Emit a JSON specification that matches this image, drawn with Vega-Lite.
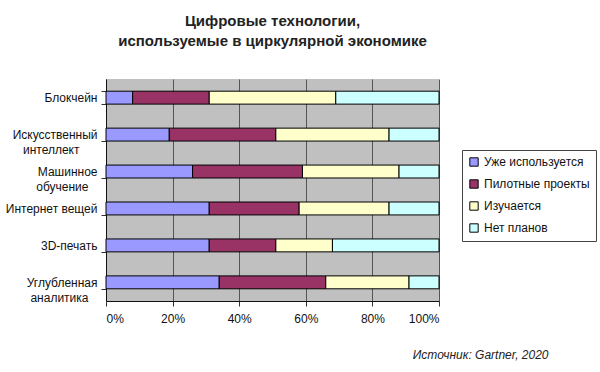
{
  "$schema": "https://vega.github.io/schema/vega-lite/v6.json",
  "width": 333,
  "height": 222,
  "autosize": {"type": "none"},
  "padding": {"left": 106, "top": 79, "right": 161, "bottom": 71},
  "background": "white",
  "config": {
    "font": "Liberation Sans",
    "view": {"fill": "#C0C0C0", "stroke": null}
  },
  "title": {
    "text": ["Цифровые технологии,", "используемые в циркулярной экономике"],
    "fontSize": 15,
    "fontWeight": "bold",
    "color": "#222222",
    "lineHeight": 20,
    "offset": 24,
    "anchor": "middle"
  },
  "data": {
    "values": [
      {"tech": "Блокчейн", "status": "Уже используется", "n": 1, "value": 8},
      {"tech": "Блокчейн", "status": "Пилотные проекты", "n": 2, "value": 23},
      {"tech": "Блокчейн", "status": "Изучается", "n": 3, "value": 38},
      {"tech": "Блокчейн", "status": "Нет планов", "n": 4, "value": 31},
      {"tech": "Искусственный\nинтеллект", "status": "Уже используется", "n": 1, "value": 19},
      {"tech": "Искусственный\nинтеллект", "status": "Пилотные проекты", "n": 2, "value": 32},
      {"tech": "Искусственный\nинтеллект", "status": "Изучается", "n": 3, "value": 34},
      {"tech": "Искусственный\nинтеллект", "status": "Нет планов", "n": 4, "value": 15},
      {"tech": "Машинное\nобучение", "status": "Уже используется", "n": 1, "value": 26},
      {"tech": "Машинное\nобучение", "status": "Пилотные проекты", "n": 2, "value": 33},
      {"tech": "Машинное\nобучение", "status": "Изучается", "n": 3, "value": 29},
      {"tech": "Машинное\nобучение", "status": "Нет планов", "n": 4, "value": 12},
      {"tech": "Интернет вещей", "status": "Уже используется", "n": 1, "value": 31},
      {"tech": "Интернет вещей", "status": "Пилотные проекты", "n": 2, "value": 27},
      {"tech": "Интернет вещей", "status": "Изучается", "n": 3, "value": 27},
      {"tech": "Интернет вещей", "status": "Нет планов", "n": 4, "value": 15},
      {"tech": "3D-печать", "status": "Уже используется", "n": 1, "value": 31},
      {"tech": "3D-печать", "status": "Пилотные проекты", "n": 2, "value": 20},
      {"tech": "3D-печать", "status": "Изучается", "n": 3, "value": 17},
      {"tech": "3D-печать", "status": "Нет планов", "n": 4, "value": 32},
      {"tech": "Углубленная\nаналитика", "status": "Уже используется", "n": 1, "value": 34},
      {"tech": "Углубленная\nаналитика", "status": "Пилотные проекты", "n": 2, "value": 32},
      {"tech": "Углубленная\nаналитика", "status": "Изучается", "n": 3, "value": 25},
      {"tech": "Углубленная\nаналитика", "status": "Нет планов", "n": 4, "value": 9}
    ]
  },
  "mark": {"type": "bar", "stroke": "black", "strokeWidth": 1},
  "encoding": {
    "y": {
      "field": "tech",
      "type": "nominal",
      "sort": null,
      "scale": {"paddingInner": 0.65, "paddingOuter": 0.33},
      "axis": {
        "title": null,
        "labelExpr": "indexof(datum.label, '\\n') < 0 ? datum.label : [split(datum.label, '\\n')[0], split(datum.label, '\\n')[1] + (indexof(datum.label, 'Искус') == 0 ? '\\u2800\\u2800' : '\\u2800')]",
        "labelFontSize": 12,
        "labelColor": "#111111",
        "labelLineHeight": 15,
        "labelPadding": 4,
        "tickBand": "extent",
        "tickColor": "#333333",
        "tickSize": 5,
        "domainColor": "#111111",
        "labelLimit": 200
      }
    },
    "x": {
      "field": "value",
      "type": "quantitative",
      "stack": "normalize",
      "scale": {"domain": [0, 1]},
      "axis": {
        "format": ".0%",
        "values": [0, 0.2, 0.4, 0.6, 0.8, 1],
        "grid": true,
        "gridColor": "#555555",
        "gridWidth": 1,
        "labelFontSize": 12,
        "labelColor": "#111111",
        "labelPadding": 7,
        "tickColor": "#333333",
        "tickSize": 5,
        "domainColor": "#111111",
        "title": "Источник: Gartner, 2020",
        "titleFontStyle": "italic",
        "titleFontWeight": "normal",
        "titleFontSize": 12,
        "titleColor": "#222222",
        "titleAlign": "right",
        "titleAnchor": null,
        "titleBaseline": "alphabetic",
        "titleX": 442,
        "titleY": 57
      }
    },
    "color": {
      "field": "status",
      "type": "nominal",
      "scale": {
        "domain": ["Уже используется", "Пилотные проекты", "Изучается", "Нет планов"],
        "range": ["#9999FF", "#993366", "#FFFFCC", "#CCFFFF"]
      },
      "legend": {
        "title": null,
        "orient": "none",
        "legendX": 356,
        "legendY": 71,
        "strokeColor": "#444444",
        "padding": 6,
        "symbolType": "square",
        "symbolSize": 70,
        "symbolStrokeColor": "black",
        "symbolStrokeWidth": 1,
        "labelFontSize": 12,
        "labelColor": "#111111",
        "rowPadding": 8,
        "labelOffset": 4
      }
    },
    "order": {"field": "n", "type": "quantitative"}
  }
}
